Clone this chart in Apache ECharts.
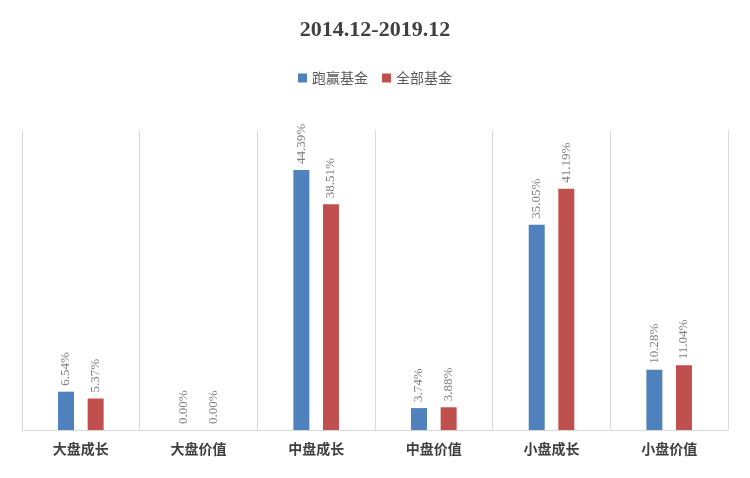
<!DOCTYPE html>
<html><head><meta charset="utf-8">
<script src="https://cdn.jsdelivr.net/npm/echarts@6/dist/echarts.min.js"></script>
<style>html,body{margin:0;padding:0;background:#fff}#c{width:750px;height:478px}</style>
</head><body><div id="c"></div>
<script>
const categories = ['大盘成长','大盘价值','中盘成长','中盘价值','小盘成长','小盘价值'];
const winFunds = [6.54, 0.00, 44.39, 3.74, 35.05, 10.28];
const allFunds = [5.37, 0.00, 38.51, 3.88, 41.19, 11.04];
const seriesNames = ['跑赢基金','全部基金'];
const serif = '"Liberation Serif","DejaVu Serif",serif';
const label = {show:true, position:'top', rotate:90, align:'left', verticalAlign:'middle', distance:6,
  color:'#7f7f7f', fontFamily:serif, fontSize:13, formatter:p=>p.value.toFixed(2)+'%'};
const chart = echarts.init(document.getElementById('c'));
chart.setOption({
  animation:false,
  title:{text:'2014.12-2019.12', left:'center', top:14,
    textStyle:{fontFamily:serif, fontSize:22, fontWeight:'bold', color:'#404040'}},
  legend:{top:66, left:'center', itemWidth:9, itemHeight:9, itemGap:14, icon:'rect',
    textStyle:{fontFamily:'"Noto Sans CJK SC"', fontSize:14, color:'#595959'}},
  grid:{left:22, right:22, top:130, bottom:48},
  xAxis:{type:'category', data:categories,
    axisLine:{lineStyle:{color:'#d9d9d9'}}, axisTick:{show:false},
    splitLine:{show:true, lineStyle:{color:'#d9d9d9'}},
    axisLabel:{fontFamily:'"Noto Sans CJK SC"', fontWeight:'bold', fontSize:14, color:'#404040', margin:12}},
  yAxis:{type:'value', min:0, max:51.2, show:false, splitLine:{show:false}},
  series:[
    {name:seriesNames[0], type:'bar', data:winFunds, barWidth:16, barGap:'85%', itemStyle:{color:'#4F81BD'}, label},
    {name:seriesNames[1], type:'bar', data:allFunds, barWidth:16, itemStyle:{color:'#C0504D'}, label}
  ]
});
</script></body></html>
